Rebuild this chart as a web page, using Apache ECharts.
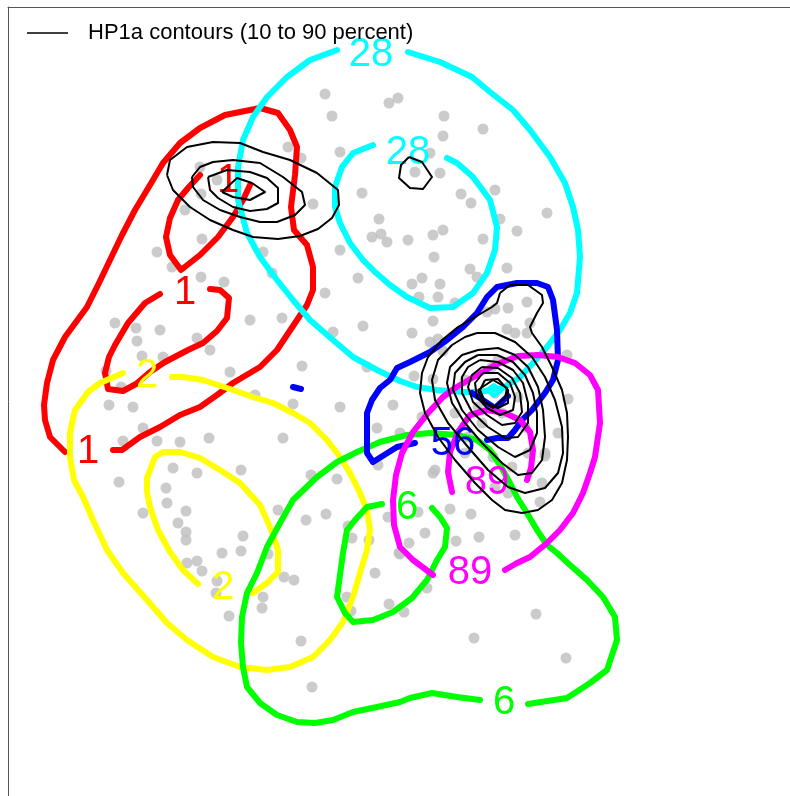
<!DOCTYPE html>
<html>
<head>
<meta charset="utf-8">
<script src="https://cdn.jsdelivr.net/npm/echarts@6/dist/echarts.min.js"></script>
<style>html,body{margin:0;padding:0;background:#fff}#c{width:790px;height:796px}</style>
</head>
<body>
<div id="c"></div>
<script>
// ---------------- data (plot coordinates) ----------------
const grayPoints = [
[325,94],[332,116],[389,103],[398,98],[444,116],[443,136],[483,129],
[288,147],[301,158],[340,152],[430,153],[415,172],[440,173],
[362,193],[313,204],[379,219],[372,237],[381,234],[387,242],[408,240],[433,235],[443,230],
[461,194],[471,203],[495,190],[500,219],[517,231],[483,239],[547,213],
[340,250],[434,257],[358,278],[412,284],[422,278],[440,284],[470,269],[477,277],[507,268],
[325,293],[200,167],[217,180],[201,194],[185,210],[157,252],[172,267],[202,239],[263,252],[272,273],[201,277],[224,282],
[282,318],[250,320],[363,326],[333,332],[302,366],[367,367],[230,372],
[115,323],[136,328],[160,330],[137,341],[197,338],[210,350],[142,356],[163,357],[106,371],[121,387],
[255,395],[293,404],[340,407],[109,405],[133,407],[143,428],[123,441],[157,441],[180,442],[209,438],[283,438],
[173,468],[197,473],[241,470],[311,475],[337,479],[119,482],[166,488],[167,503],[143,513],[186,511],[178,523],[186,532],[186,540],
[243,536],[222,553],[241,551],[268,554],[187,563],[197,561],[202,571],[217,581],[216,593],[229,616],[263,597],[262,608],
[284,577],[294,580],[278,510],[306,520],[326,514],[301,641],[312,687],
[393,405],[377,428],[400,433],[378,465],[388,517],[348,526],[352,538],[369,540],[375,573],[399,553],[347,597],[351,611],
[389,604],[404,612],[427,588],[433,473],[418,512],[450,509],[471,514],[425,533],[409,543],[400,554],[456,541],[479,537],
[515,535],[540,502],[545,456],[568,399],[567,355],[536,614],[474,638],[566,658],
[412,333],[433,321],[438,339],[419,297],[438,297],[455,303],[487,312],[495,309],[508,308],[527,302],[507,329],[515,333],
[527,333],[530,323],[430,342],[443,351],[414,376],[433,379],
[498,360],[492,367],[465,380],[495,393],[518,397],[502,413],[525,427],[545,453],[528,453],[542,483],[558,433],[435,470],
[495,487],[508,493],[482,423],[478,407],[455,413],[422,417],[468,437],[493,457],[512,467],[465,453]
];

// cluster 1 (red)
const redOuter = [[113,450],[122,450],[140,437],[160,427],[180,415],[200,407],[217,395],[233,383],[260,367],[277,350],[297,320],[307,305],[313,290],[313,267],[307,245],[294,230],[291,207],[295,175],[297,147],[290,130],[278,113],[260,108],[245,111],[225,115],[200,128],[180,143],[163,163],[150,185],[135,210],[122,235],[110,260],[99,283],[87,307],[65,337],[53,360],[47,383],[44,405],[45,420],[50,437],[65,452]];
const redMiddle = [[210,289],[220,290],[229,298],[227,318],[217,331],[203,343],[188,350],[165,362],[150,372],[136,384],[123,391],[108,389],[105,373],[109,357],[115,345],[128,323],[145,303],[160,294]];
const redInner = [[250,185],[243,200],[233,217],[218,237],[200,255],[181,270],[170,255],[166,237],[170,218],[178,200],[188,188],[200,175]];
// cluster 2 (yellow)
const yellowOuter = [[172,377],[183,377],[203,380],[233,390],[253,397],[273,403],[293,413],[310,423],[327,440],[340,457],[350,473],[360,493],[367,510],[370,530],[367,550],[360,573],[353,597],[343,622],[330,640],[313,657],[290,667],[267,670],[240,667],[213,657],[187,640],[167,623],[147,600],[123,573],[107,550],[93,520],[83,497],[74,480],[70,457],[70,433],[75,410],[88,392],[100,383],[123,373]];
const yellowInner = [[248,590],[253,593],[267,583],[278,572],[278,550],[270,527],[260,505],[240,483],[220,470],[200,458],[180,452],[163,452],[155,457],[147,478],[147,492],[150,507],[158,530],[170,552],[183,570],[198,584]];
// cluster 6 (green)
const greenOuter = [[528,704],[567,698],[590,683],[607,670],[617,640],[615,617],[603,597],[587,580],[570,565],[557,553],[547,545],[537,530],[527,513],[517,497],[510,483],[500,465],[490,450],[477,440],[457,435],[430,433],[407,435],[380,442],[357,452],[337,462],[317,477],[293,500],[280,523],[267,547],[257,573],[247,593],[242,617],[241,643],[243,667],[247,687],[260,703],[277,715],[297,722],[315,723],[333,720],[353,712],[377,707],[400,702],[410,698],[432,693],[457,697],[480,700]];
const greenInner = [[382,504],[367,507],[355,520],[347,530],[343,553],[337,597],[345,613],[353,622],[373,620],[393,612],[412,598],[427,580],[437,560],[445,547],[447,528],[440,517],[432,508]];
// cluster 28 (cyan)
const cyanOuter = [[408,52],[440,62],[472,77],[490,92],[513,110],[530,130],[550,157],[565,183],[573,207],[578,230],[580,257],[577,293],[570,313],[560,330],[547,347],[533,363],[520,377],[503,388],[480,392],[463,392],[437,390],[417,387],[400,381],[377,370],[353,357],[333,340],[310,320],[293,300],[277,280],[260,257],[247,233],[238,200],[238,167],[243,140],[253,117],[267,97],[287,77],[310,60],[337,50]];
const cyanInner = [[447,158],[457,163],[473,177],[490,200],[497,227],[495,250],[487,273],[473,293],[453,307],[430,308],[407,297],[390,285],[375,272],[363,260],[350,243],[340,223],[335,207],[335,187],[342,167],[353,153],[373,145]];
const cyanCore = [[487,390],[494,385],[501,391],[494,396],[487,390]];
// cluster 56 (blue)
const blueOuter = [[487,440],[497,438],[508,438],[515,430],[522,420],[532,410],[545,393],[553,380],[558,360],[557,330],[553,300],[548,287],[537,283],[517,283],[497,287],[487,297],[477,313],[463,327],[447,340],[430,352],[410,362],[397,368],[390,380],[380,388],[372,400],[367,413],[367,433],[367,453],[373,462],[397,447],[415,443]];
const blueInner = [[472,393],[495,408],[508,396]];
const blueSpot = [[293,387],[301,389]];
// cluster 89 (magenta)
const magentaOuter = [[505,570],[517,563],[530,557],[547,543],[560,530],[573,513],[583,493],[590,473],[595,457],[600,423],[598,390],[590,375],[575,363],[558,357],[538,355],[518,356],[495,365],[472,378],[455,388],[443,397],[428,413],[413,432],[402,453],[396,475],[393,500],[394,525],[400,547],[413,560],[433,575]];
const magentaInner = [[452,492],[448,472],[450,452],[458,432],[470,415],[487,410],[505,413],[520,420],[530,432],[533,450],[531,468],[527,480]];

// HP1a contours (black)
const hpTop = [
 [[167,175],[170,160],[187,147],[213,142],[240,143],[263,152],[290,160],[317,173],[338,190],[339,205],[332,218],[318,229],[300,236],[278,239],[253,237],[233,230],[210,220],[190,207],[173,190],[167,175]],
 [[192,177],[200,167],[213,162],[233,160],[260,163],[283,177],[302,192],[305,205],[295,215],[277,222],[260,222],[240,217],[220,210],[203,200],[193,187],[192,177]],
 [[208,177],[227,170],[250,172],[267,178],[278,188],[278,203],[267,209],[250,211],[233,207],[218,198],[210,190],[208,177]],
 [[222,192],[237,178],[252,183],[265,192],[250,200],[233,197],[222,192]]
];
const hpSmall = [[409,157],[422,162],[432,177],[423,189],[410,188],[399,178],[401,165],[409,157]];
const hpMain = [
 [[500,293],[510,285],[528,285],[542,295],[543,303],[537,313],[530,327],[532,333],[542,347],[552,367],[562,390],[567,413],[568,437],[567,460],[562,483],[552,500],[538,510],[522,513],[505,510],[492,500],[475,483],[455,460],[438,437],[425,413],[420,393],[422,373],[428,357],[442,340],[458,327],[475,317],[492,307],[497,303],[500,293]],
 [[477,333],[495,333],[515,342],[532,357],[545,377],[555,400],[562,427],[563,453],[558,473],[545,488],[525,493],[508,487],[488,470],[468,447],[448,423],[435,400],[432,380],[438,360],[452,345],[465,337],[477,333]],
 [[478,350],[498,348],[515,355],[528,367],[538,387],[543,410],[545,437],[542,460],[532,473],[518,475],[502,463],[482,443],[465,423],[452,403],[447,383],[450,367],[462,355],[478,350]],
 [[478,355],[497,355],[513,362],[525,375],[533,393],[537,413],[537,433],[530,450],[515,457],[498,447],[478,430],[462,410],[453,390],[455,373],[465,362],[478,355]],
 [[480,360],[498,362],[513,370],[523,383],[528,403],[528,423],[518,437],[505,438],[488,427],[472,412],[462,393],[462,377],[468,367],[480,360]],
 [[482,367],[498,368],[512,378],[520,393],[522,412],[515,423],[502,425],[487,415],[473,402],[468,387],[472,375],[482,367]],
 [[483,373],[498,373],[510,383],[515,397],[513,410],[500,415],[487,408],[477,397],[475,383],[483,373]],
 [[485,380],[498,379],[508,390],[508,403],[498,408],[485,402],[480,390],[485,380]],
 [[478,390],[493,380],[507,388],[505,398],[493,408],[482,400],[478,390]]
];

// contour labels
const labelTexts = ['1','1','1','2','2','6','6','28','28','56','89','89'];
const labelGroups = ['c1','c1','c1','c2','c2','c6','c6','c28','c28','c56','c89','c89'];
const labelPositions = [[88,452],[185,293],[228,181],[147,376],[223,588],[407,508],[504,703],[371,55],[408,153],[453,444],[487,483],[470,573]];

// ---------------- styles & chart ----------------
const groupColor = {c1:'#FF0000', c2:'#FFFF00', c6:'#00FF00', c28:'#00FFFF', c56:'#0000FF', c89:'#FF00FF'};
const coloredContours = [
  ['c1', [redOuter, redMiddle, redInner]],
  ['c2', [yellowOuter, yellowInner]],
  ['c6', [greenOuter, greenInner]],
  ['c28', [cyanOuter, cyanInner, cyanCore]],
  ['c56', [blueOuter, blueInner, blueSpot]],
  ['c89', [magentaOuter, magentaInner]]
];
const FONT = '"Liberation Sans", Arial, Helvetica, sans-serif';
const LEGEND_NAME = 'HP1a contours (10 to 90 percent)';

const series = [];
series.push({
  type: 'scatter', data: grayPoints, symbol: 'circle', symbolSize: 11,
  itemStyle: {color: '#BEBEBE'}, z: 1, silent: true, animation: false
});
coloredContours.forEach(([g, lines]) => {
  lines.forEach(pts => {
    series.push({
      type: 'line', data: pts, showSymbol: false, symbol: 'none', smooth: false,
      lineStyle: {color: groupColor[g], width: pts === cyanCore ? 4 : 6, cap: 'round', join: 'round'},
      z: 2, silent: true, animation: false
    });
  });
});
series.push({
  type: 'custom', z: 3, silent: true, animation: false,
  data: labelPositions.map((p, i) => [p[0], p[1], i]),
  renderItem: function (params, api) {
    const c = api.coord([api.value(0), api.value(1)]);
    const i = api.value(2);
    return {
      type: 'text', x: c[0], y: c[1],
      style: {text: labelTexts[i], fill: groupColor[labelGroups[i]], font: '40px ' + FONT,
              align: 'center', verticalAlign: 'middle'}
    };
  }
});
[...hpTop, hpSmall, ...hpMain].forEach(pts => {
  series.push({
    name: LEGEND_NAME, type: 'line', data: pts, showSymbol: false, symbol: 'none', smooth: false,
    lineStyle: {color: '#000000', width: 2, join: 'round'}, itemStyle: {color: '#000000'},
    z: 4, silent: true, animation: false
  });
});

const chart = echarts.init(document.getElementById('c'), null, {renderer: 'canvas'});
chart.setOption({
  animation: false,
  backgroundColor: '#ffffff',
  grid: {left: 8, top: 7, right: 0, bottom: 0, containLabel: false},
  legend: {
    data: [{name: LEGEND_NAME, icon: 'rect'}],
    left: 27, top: 22, padding: 0, itemWidth: 41, itemHeight: 1.5, selectedMode: false,
    textStyle: {fontFamily: FONT, fontSize: 22, color: '#000', padding: [0, 0, 0, 15]}
  },
  xAxis: {type: 'value', min: 8, max: 790, position: 'top',
    axisLine: {show: true, onZero: false, lineStyle: {color: '#555555', width: 1}},
    axisTick: {show: false}, axisLabel: {show: false}, splitLine: {show: false}},
  yAxis: {type: 'value', min: 7, max: 796, inverse: true, position: 'left',
    axisLine: {show: true, onZero: false, lineStyle: {color: '#555555', width: 1}},
    axisTick: {show: false}, axisLabel: {show: false}, splitLine: {show: false}},
  series: series
});
</script>
</body>
</html>
